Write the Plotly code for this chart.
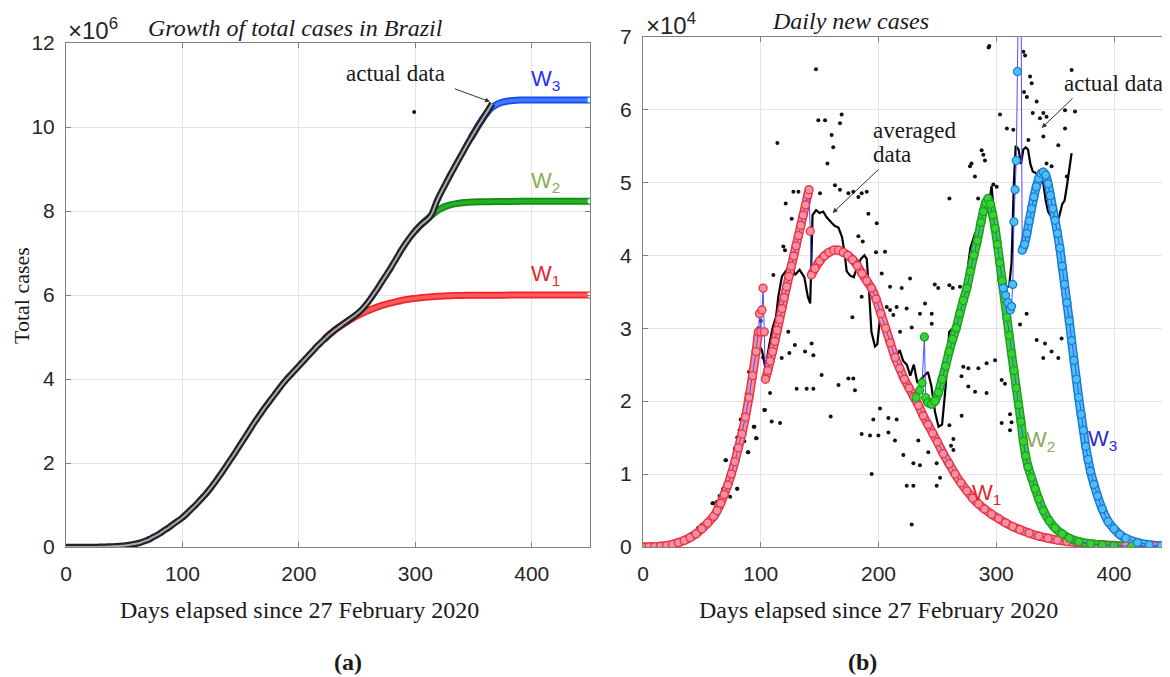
import plotly.graph_objects as go

# page offset of the plot inside the browser (body margin) and figure size
OFF = 8
FW, FH = 1170 - OFF, 677 - OFF

# ---------------- Left panel: total cases (millions) ----------------
cum_days = list(range(0, 367, 3))
cum_vals = [0, 0, 0, 0, 0, 0, 0.0003, 0.0006, 0.0015, 0.0028,
            0.0045, 0.007, 0.010, 0.013, 0.017, 0.022, 0.029, 0.038, 0.050, 0.063,
            0.078, 0.097, 0.125, 0.155, 0.19, 0.24, 0.28, 0.33, 0.39, 0.44,
            0.50, 0.56, 0.62, 0.68, 0.75, 0.83, 0.91, 0.99, 1.08, 1.17,
            1.26, 1.36, 1.47, 1.58, 1.70, 1.82, 1.94, 2.07, 2.19, 2.32,
            2.45, 2.58, 2.71, 2.84, 2.97, 3.09, 3.21, 3.33, 3.44, 3.55,
            3.66, 3.77, 3.88, 3.98, 4.07, 4.16, 4.25, 4.34, 4.43, 4.52,
            4.61, 4.70, 4.79, 4.87, 4.95, 5.03, 5.10, 5.17, 5.23, 5.29,
            5.35, 5.41, 5.47, 5.53, 5.60, 5.68, 5.78, 5.89, 6.01, 6.13,
            6.26, 6.39, 6.52, 6.65, 6.79, 6.93, 7.07, 7.20, 7.32, 7.43,
            7.53, 7.62, 7.70, 7.77, 7.84, 7.98, 8.20, 8.38, 8.54, 8.70,
            8.86, 9.01, 9.16, 9.31, 9.46, 9.61, 9.75, 9.89, 10.03, 10.16,
            10.29, 10.42, 10.56]

cum_w1_days = [222, 228, 234, 240, 246, 252, 258, 264, 270, 276, 282, 288, 294, 300,
               306, 312, 320, 330, 340, 350, 360, 375, 390, 405, 420, 435, 450]
cum_w1_vals = [4.95, 5.10, 5.23, 5.34, 5.44, 5.53, 5.61, 5.68, 5.74, 5.79, 5.83, 5.87,
               5.90, 5.92, 5.94, 5.955, 5.97, 5.98, 5.99, 5.993, 5.995, 5.997, 5.998,
               5.999, 6.0, 6.0, 6.0]
cum_w2_days = [300, 306, 310, 314, 318, 322, 326, 330, 335, 340, 346, 355, 370, 390, 410, 430, 450]
cum_w2_vals = [7.53, 7.70, 7.80, 7.90, 7.99, 8.06, 8.11, 8.145, 8.175, 8.195, 8.21, 8.22,
               8.225, 8.23, 8.23, 8.23, 8.23]
cum_w3_days = [348, 351, 354, 357, 360, 363, 366, 370, 375, 380, 390, 400, 415, 430, 450]
cum_w3_vals = [9.75, 9.89, 10.03, 10.16, 10.28, 10.39, 10.47, 10.54, 10.59, 10.62, 10.64,
               10.645, 10.645, 10.645, 10.645]
cum_outlier_day = [299]
cum_outlier_val = [10.36]

# ---------------- Right panel: daily new cases (x 1e4) ----------------
dots_day = [10, 15, 20, 25, 28, 31, 34, 37, 40, 42, 45, 47, 50, 52, 55, 57, 59, 62, 63, 65,
            67, 68, 70, 72, 74, 74, 76, 78, 80, 80, 82, 83, 85, 86, 88, 89, 90, 92, 94, 96,
            95, 97, 98, 100, 102, 103,
            146.9, 148.9, 154.6, 168.7, 167.3, 160.2, 161.6, 156.6, 114.1, 163, 167.3, 174.4,
            178.6, 182.9, 185.7, 190, 127.7, 132, 121.2, 150.3, 126.3, 191.4, 198.5, 182.9,
            186.6, 119.2, 120.6, 205.5, 197.9, 110.7, 202.7, 209.8, 185.7, 207, 209.8, 215.4,
            212.6, 177.8, 123.4, 129, 143.2, 137.6, 124.3, 144.7, 117.8, 151.7, 130.5, 139,
            144.7, 166, 174.4, 178.6, 180, 107.9, 103.6, 109.3, 116.4, 159.4, 201.3, 195.6,
            208.4, 215.4, 185.7, 192.8, 199.9, 208.4, 214, 194.2, 94.6, 96.5, 89.5, 70.5,
            74, 80.1, 63.1, 59.7, 49.8, 47, 37.1, 31.4,
            294.1, 293.5, 323.1, 324.5, 364, 328.7, 330.1, 323.6, 326, 334.3, 331, 340,
            358.4, 366.9, 337.1, 342.7, 303.2, 309, 314.5, 358.4, 340, 327.3, 287.6, 289,
            290.4, 352.7, 277.7, 279, 281.9, 342.7, 347, 297.5, 300.4, 359.9, 260.2, 260.2,
            263.1, 284.6, 289, 247.8, 250.7, 226.8, 219.7, 223.9, 228.2, 235.2, 218.3, 245.2,
            245.2, 239.5, 325.8, 334.3, 341.4, 320.2, 347, 355.5, 352.7, 362.6, 361.2, 339.9,
            276.3, 284.8, 291.8, 299, 304.6, 307.4, 272, 270.5, 276.3, 282, 291.8, 270.6,
            263.6, 311.7, 313, 304.6, 311.7, 263.6, 242.3, 249.4, 233.8, 221.1, 229.6, 235.2,
            249.4, 252.3, 224, 229.6, 228.2, 260.2, 261.6, 269.2, 273.5]
dots_val = [0.0, 0.0, 0.01, 0.02, 0.03, 0.07, 0.05, 0.1, 0.12, 0.15, 0.2, 0.26, 0.3, 0.25, 0.35,
            0.4, 0.6, 0.55, 0.62, 0.7, 0.55, 0.8, 1.19, 0.9, 0.99, 0.69, 1.1, 1.35, 0.8, 1.5,
            1.6, 1.75, 1.8, 1.45, 2.1, 1.3, 2.4, 2.2, 1.65, 1.49, 2.6, 2.8, 3.0, 3.1, 2.6, 1.88,
            6.55, 5.85, 5.85, 5.93, 5.81, 5.65, 5.48, 5.26, 5.54, 4.96, 4.9, 4.85,
            4.87, 4.8, 4.85, 4.87, 4.87, 4.87, 4.71, 4.85, 4.5, 4.57, 4.44, 4.26,
            4.19, 4.12, 4.07, 4.05, 4.04, 3.73, 3.75, 3.57, 3.43, 3.29, 3.25, 3.29,
            3.18, 3.15, 2.95, 2.77, 2.79, 2.68, 2.66, 2.63, 2.59, 2.36, 2.17, 2.17,
            2.17, 2.22, 2.31, 2.31, 2.15, 2.11, 1.88, 1.72, 1.7, 1.79, 1.9, 1.75,
            1.77, 1.75, 1.55, 1.53, 1.53, 1.57, 1.46, 1.0, 1.65, 1.49, 1.3, 1.19,
            0.99, 0.8, 0.62, 0.6, 0.3, 0.26, 0.1, 0.07,
            6.87, 6.85, 6.79, 6.74, 6.54, 6.45, 6.36, 6.24, 6.17, 6.11, 5.95, 5.95,
            5.99, 5.97, 5.88, 5.9, 5.93, 5.74, 5.72, 5.74, 5.63, 5.58, 5.44, 5.38,
            5.3, 5.51, 5.22, 5.26, 5.08, 5.26, 5.22, 4.97, 4.94, 5.08, 4.78, 3.59,
            3.55, 4.78, 4.71, 3.6, 3.55, 3.68, 3.55, 3.27, 3.01, 3.2, 2.95, 3.2,
            3.06, 3.34, 3.2, 2.84, 2.79, 3.05, 2.68, 2.86, 2.59, 2.9, 3.23, 2.59,
            2.45, 2.45, 2.52, 2.56, 2.29, 2.24, 2.47, 2.34, 2.2, 2.13, 2.11, 1.8,
            1.48, 1.82, 1.71, 1.7, 1.6, 1.33, 1.3, 1.15, 1.46, 1.26, 1.15, 1.12,
            0.84, 0.95, 0.84, 0.84, 0.31, 1.67, 1.39, 3.57, 3.55]

avg_days = [0, 10, 20, 25, 30, 35, 40, 45, 50, 55, 60, 65, 70, 75, 80, 85, 90, 95, 99, 101,
            104, 107, 110, 113, 115, 118, 122, 126, 129, 133, 137, 140, 142, 144, 147, 150,
            153, 156, 160, 163, 166, 169, 171, 173, 176, 179, 182, 185, 188, 190, 192, 194,
            197, 199, 201, 203, 206, 209, 212, 215, 218, 221, 224, 227, 230, 233, 236, 239,
            242, 245, 248, 251, 254, 257, 260, 263, 266, 270, 274, 278, 282, 286, 290, 294,
            296, 298, 300, 302, 305, 308, 311, 313, 315, 316.5, 319, 321, 323, 325, 327, 329,
            331, 334, 337, 340, 342, 344, 347, 350, 353, 356, 358, 360, 362, 364]
avg_vals = [0, 0, 0.01, 0.03, 0.05, 0.07, 0.1, 0.15, 0.22, 0.3, 0.42, 0.55, 0.7, 0.9, 1.2,
            1.6, 2.05, 2.5, 2.75, 2.7, 2.45, 2.75, 3.0, 3.16, 3.44, 3.71, 3.8, 3.89, 3.73,
            3.8, 3.7, 3.43, 3.34, 4.55, 4.62, 4.58, 4.6, 4.52, 4.45, 4.4, 4.38, 4.25, 4.05,
            3.78, 3.72, 3.7, 3.85, 3.95, 4.0, 3.95, 3.5, 2.95, 2.75, 2.78, 3.1, 3.2, 2.9,
            2.8, 2.72, 2.6, 2.7, 2.55, 2.5, 2.35, 2.5, 2.25, 2.3, 2.35, 2.4, 2.2, 1.85,
            1.65, 1.68, 2.2, 2.95, 3.0, 3.05, 3.3, 3.6, 4.1, 4.3, 4.4, 4.55, 4.7, 4.95,
            4.6, 4.4, 3.65, 3.55, 3.55, 3.58, 3.9, 5.0, 5.5, 5.45, 5.25, 5.45, 5.48, 5.45,
            5.25, 5.15, 5.13, 5.1, 4.98, 4.75, 4.6, 4.52, 4.55, 4.5, 4.7, 4.75, 4.95, 5.2, 5.4]

# W1 model, three pieces
w1a_days = [0, 5, 10, 15, 20, 25, 30, 35, 40, 45, 50, 55, 60, 63, 66, 69, 72, 75, 78, 81,
            84, 87, 90, 93, 96, 98, 99, 100, 101, 102, 103]
w1a_vals = [0, 0.002, 0.005, 0.01, 0.02, 0.035, 0.06, 0.09, 0.13, 0.18, 0.25, 0.33, 0.42,
            0.5, 0.6, 0.72, 0.85, 1.0, 1.17, 1.36, 1.55, 1.78, 2.05, 2.35, 2.68, 2.95, 3.2,
            2.95, 3.25, 3.55, 2.95]
w1b_days = [104, 106, 108, 110, 112, 114, 116, 118, 120, 122, 124, 126, 128, 130, 132, 134,
            136, 138, 140, 141, 142]
w1b_vals = [2.3, 2.42, 2.55, 2.68, 2.82, 2.97, 3.12, 3.27, 3.42, 3.57, 3.71, 3.85, 3.99,
            4.13, 4.27, 4.41, 4.55, 4.69, 4.83, 4.9, 4.33]
w1c_days = [143, 146, 150, 154, 158, 162, 166, 170, 174, 178, 182, 186, 190, 194, 198, 202,
            206, 210, 214, 218, 222, 226, 230, 234, 238, 242, 246, 250, 255, 260, 265, 270,
            275, 280, 285, 290, 296, 302, 308, 314, 320, 328, 336, 344, 352, 360, 370, 380,
            390, 400, 410, 420, 435, 450]
w1c_vals = [3.73, 3.82, 3.92, 3.99, 4.04, 4.07, 4.07, 4.04, 4.0, 3.94, 3.86, 3.75, 3.65,
            3.55, 3.4, 3.2, 3.0, 2.8, 2.6, 2.45, 2.3, 2.18, 2.06, 1.94, 1.8, 1.68, 1.56,
            1.44, 1.28, 1.14, 1.0, 0.88, 0.77, 0.67, 0.59, 0.52, 0.45, 0.39, 0.33, 0.28,
            0.24, 0.19, 0.15, 0.12, 0.095, 0.075, 0.055, 0.04, 0.03, 0.022, 0.016, 0.012,
            0.008, 0.005]

w2_days = [232, 235, 237, 239, 240, 242, 245, 248, 251, 254, 257, 260, 263, 266, 269, 272,
           275, 278, 281, 284, 287, 289, 291, 293, 295, 297, 299, 301, 303, 305, 307, 309,
           311, 313, 315, 317, 319, 321, 323, 325, 327, 330, 333, 336, 340, 345, 350, 356,
           362, 370, 380, 390, 400, 415, 430, 450]
w2_vals = [2.05, 2.15, 2.25, 2.88, 2.05, 1.98, 1.96, 2.0, 2.12, 2.3, 2.48, 2.68, 2.85, 3.0,
           3.2, 3.38, 3.55, 3.78, 4.0, 4.2, 4.45, 4.6, 4.72, 4.78, 4.7, 4.55, 4.37, 4.15,
           3.9, 3.65, 3.4, 3.15, 2.9, 2.65, 2.42, 2.18, 1.95, 1.72, 1.45, 1.25, 1.1, 0.95,
           0.8, 0.66, 0.5, 0.36, 0.26, 0.18, 0.12, 0.075, 0.045, 0.028, 0.018, 0.01, 0.006,
           0.003]

w3_days = [306, 308, 310, 312, 313, 314, 315, 316, 317, 318, 319, 321, 322, 324, 326, 328,
           330, 332, 334, 336, 338, 340, 342, 344, 346, 348, 350, 352, 354, 356, 358, 360,
           362, 364, 366, 368, 370, 372, 374, 376, 378, 380, 383, 386, 390, 395, 400, 405,
           410, 420, 430, 440, 450]
w3_vals = [3.55, 3.45, 3.35, 3.25, 3.3, 3.6, 4.46, 4.9, 5.3, 6.52, 7.8, 7.8, 4.07, 4.15,
           4.3, 4.47, 4.64, 4.8, 4.94, 5.05, 5.12, 5.14, 5.1, 4.98, 4.82, 4.64, 4.48, 4.3,
           4.1, 3.85, 3.6, 3.35, 3.1, 2.83, 2.56, 2.3, 2.05, 1.82, 1.6, 1.38, 1.2, 1.04,
           0.86, 0.7, 0.52, 0.35, 0.25, 0.17, 0.12, 0.06, 0.03, 0.015, 0.008]

left_yticks = [0, 2, 4, 6, 8, 10, 12]
right_yticks = [0, 1, 2, 3, 4, 5, 6, 7]
xticks = [0, 100, 200, 300, 400]

SERIF = "Liberation Serif, Times New Roman, serif"
SANS = "Liberation Sans, Arial, sans-serif"
BLUE_LINE = "#4d4dff"


def fx(px):
    return (px - OFF) / FW


def fy(py):
    return 1 - (py - OFF) / FH


fig = go.Figure()


def band(xs, ys, edge, fill, xa, ya, w_out, w_in):
    fig.add_trace(go.Scatter(x=xs, y=ys, mode="lines", xaxis=xa, yaxis=ya, hoverinfo="skip",
                             line=dict(color=edge, width=w_out, shape="spline", smoothing=0.6)))
    fig.add_trace(go.Scatter(x=xs, y=ys, mode="lines", xaxis=xa, yaxis=ya, hoverinfo="skip",
                             line=dict(color=fill, width=w_in, shape="spline", smoothing=0.6)))


# ---- left traces ----
band(cum_w1_days, cum_w1_vals, "#e8262c", "#ff5a5a", "x", "y", 7, 3.5)
band(cum_w2_days, cum_w2_vals, "#148c14", "#25b025", "x", "y", 7, 3.5)
band(cum_w3_days, cum_w3_vals, "#1848f0", "#3d7dff", "x", "y", 7, 3.5)
for xs, ys, col in [(cum_w1_days, cum_w1_vals, "#ff6b6b"), (cum_w2_days, cum_w2_vals, "#2fb52f"),
                    (cum_w3_days, cum_w3_vals, "#2fa0ff")]:
    fig.add_trace(go.Scatter(x=xs[-1:], y=ys[-1:], mode="markers", xaxis="x", yaxis="y",
                             marker=dict(size=6, color="white", line=dict(color=col, width=1.2))))
band(cum_days, cum_vals, "#222222", "#a8aab8", "x", "y", 6.5, 2)
fig.add_trace(go.Scatter(x=cum_outlier_day, y=cum_outlier_val, mode="markers", xaxis="x", yaxis="y",
                         marker=dict(size=4, color="#111")))

# ---- right traces ----
fig.add_trace(go.Scatter(x=dots_day, y=dots_val, mode="markers", xaxis="x2", yaxis="y2",
                         marker=dict(size=4, color="#111")))
fig.add_trace(go.Scatter(x=avg_days, y=avg_vals, mode="lines", xaxis="x2", yaxis="y2",
                         line=dict(color="#000", width=2.2)))

band(w1a_days[:-5], w1a_vals[:-5], "#e8334a", "#f78e9c", "x2", "y2", 9, 6)
band(w1b_days[:-1], w1b_vals[:-1], "#e8334a", "#f78e9c", "x2", "y2", 9, 6)
band(w1c_days, w1c_vals, "#e8334a", "#f78e9c", "x2", "y2", 9, 6)
band(w2_days[4:], w2_vals[4:], "#1f9f1f", "#35d435", "x2", "y2", 9, 6)
band(w3_days[12:], w3_vals[12:], "#1b78d8", "#4cc0f2", "x2", "y2", 9, 6)

w1_days = w1a_days + w1b_days + w1c_days
w1_vals = w1a_vals + w1b_vals + w1c_vals
fig.add_trace(go.Scatter(x=w1_days, y=w1_vals, mode="lines+markers", xaxis="x2", yaxis="y2",
                         line=dict(color=BLUE_LINE, width=1),
                         marker=dict(size=8, color="#f7909e", line=dict(color="#e8334a", width=1.3))))
fig.add_trace(go.Scatter(x=w2_days, y=w2_vals, mode="lines+markers", xaxis="x2", yaxis="y2",
                         line=dict(color=BLUE_LINE, width=1),
                         marker=dict(size=8, color="#35d435", line=dict(color="#1f9f1f", width=1.2))))
fig.add_trace(go.Scatter(x=w3_days, y=w3_vals, mode="lines+markers", xaxis="x2", yaxis="y2",
                         line=dict(color=BLUE_LINE, width=1),
                         marker=dict(size=8, color="#4cc0f2", line=dict(color="#1b78d8", width=1.2))))

axis_common = dict(showline=True, linecolor="#808080", linewidth=1, ticks="inside", ticklen=5,
                   tickcolor="#808080", showgrid=True, gridcolor="#e4e4e4", gridwidth=1,
                   zeroline=False, automargin=False,
                   tickfont=dict(family=SANS, size=21, color="#262626"))

fig.update_layout(
    width=FW, height=FH, margin=dict(l=0, r=0, t=0, b=0, pad=0, autoexpand=False),
    paper_bgcolor="white", plot_bgcolor="white", showlegend=False,
    xaxis=dict(domain=[fx(66), fx(590)], range=[0, 450], tickvals=xticks, mirror="ticks",
               anchor="y", ticklabelstandoff=8, **axis_common),
    yaxis=dict(domain=[fy(547), fy(43)], range=[0, 12], tickvals=left_yticks,
               mirror="ticks", anchor="x", ticklabelstandoff=6, **axis_common),
    xaxis2=dict(domain=[fx(643), 1.0], range=[0, (1170 - 643) / 1.1775], tickvals=xticks,
                mirror="ticks", anchor="y2", ticklabelstandoff=8, **axis_common),
    yaxis2=dict(domain=[fy(547), fy(36.5)], range=[0, 7], tickvals=right_yticks,
                mirror=False, anchor="x2", ticklabelstandoff=6, **axis_common),
)


def ann(px, py, text, size=24, family=SERIF, color="#1a1a1a", xanchor="center",
        yanchor="middle", angle=0, align="center"):
    fig.add_annotation(x=fx(px), y=fy(py), xref="paper", yref="paper", text=text,
                       showarrow=False, xanchor=xanchor, yanchor=yanchor, textangle=angle,
                       align=align, font=dict(family=family, size=size, color=color))


def arrow(hx, hy, tx, ty):
    fig.add_annotation(x=fx(hx), y=fy(hy), xref="paper", yref="paper", text="",
                       showarrow=True, ax=tx - hx, ay=ty - hy, axref="pixel", ayref="pixel",
                       arrowhead=2, arrowsize=1, arrowwidth=1, arrowcolor="#333333")


# Left panel texts
ann(66, 29, "×10<sup>6</sup>", size=24, family=SANS, color="#262626", xanchor="left")
ann(295, 28, "<i>Growth of total cases in Brazil</i>", size=24)
ann(21, 296, "Total cases", size=22, angle=-90)
ann(299, 610, "Days elapsed since 27 February 2020", size=24)
ann(348, 662, "<b>(a)</b>", size=24)
ann(396, 74, "actual data", size=23)
arrow(490, 101.7, 453.3, 88.3)
ann(529, 80, "W<sub>3</sub>", size=22, family=SANS, color="#1f2fff", xanchor="left")
ann(529, 182, "W<sub>2</sub>", size=22, family=SANS, color="#86b04c", xanchor="left")
ann(529, 275, "W<sub>1</sub>", size=22, family=SANS, color="#e8232a", xanchor="left")

# Right panel texts
ann(644, 24, "×10<sup>4</sup>", size=24, family=SANS, color="#262626", xanchor="left")
ann(850, 21, "<i>Daily new cases</i>", size=24)
ann(878, 610, "Days elapsed since 27 February 2020", size=24)
ann(862.5, 662, "<b>(b)</b>", size=24)
ann(871, 130, "averaged", size=23, xanchor="left")
ann(871, 154, "data", size=23, xanchor="left")
arrow(832.6, 213, 880, 168)
ann(1113, 84, "actual data", size=23)
arrow(1041.7, 128, 1074, 97)
ann(970, 494, "W<sub>1</sub>", size=22, family=SANS, color="#e8232a", xanchor="left")
ann(1024, 441, "W<sub>2</sub>", size=22, family=SANS, color="#8aab5c", xanchor="left")
ann(1086, 440, "W<sub>3</sub>", size=22, family=SANS, color="#2a2ad6", xanchor="left")

fig.write_html("out.html")
